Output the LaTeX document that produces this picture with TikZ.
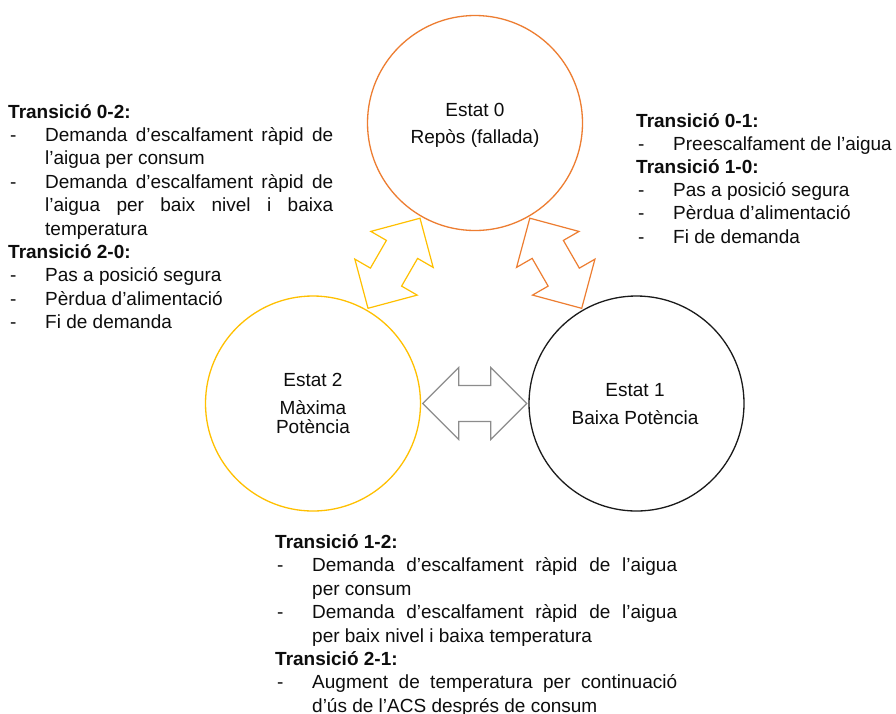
\documentclass[tikz,border=0pt]{standalone}
\usepackage{fontspec}
\setmainfont{Liberation Sans}
\usetikzlibrary{calc}

\definecolor{txt}{HTML}{0D0D0D}
\definecolor{orangeC}{HTML}{ED7D31}
\definecolor{yellowC}{HTML}{FFC000}
\definecolor{darkC}{HTML}{1A1A1A}
\definecolor{grayC}{HTML}{8C8C8C}

% heading and dashed item of a transition list
\newcommand\trhead[1]{\noindent\textbf{#1}\par}
\newcommand\tritem[1]{\hangindent=37pt\hangafter=1\noindent\makebox[37pt][l]{\hspace{2pt}-}#1\par}

% double block arrow between two state circles
% #1 from, #2 to, #3 style, #4 name prefix
\newcommand\dblarrow[4]{%
  \coordinate (#4m) at ($(#1)!0.5!(#2)$);
  \coordinate (#4a) at ($(#4m)!16pt!(#2)$);
  \coordinate (#4b) at ($(#4m)!16pt!(#1)$);
  \draw[#3] ($(#4m)!52pt!(#2)$) -- ($(#4a)!36pt!90:(#2)$) -- ($(#4a)!18pt!90:(#2)$)
    -- ($(#4b)!18pt!-90:(#1)$) -- ($(#4b)!36pt!-90:(#1)$) -- ($(#4m)!52pt!(#1)$)
    -- ($(#4b)!36pt!90:(#1)$) -- ($(#4b)!18pt!90:(#1)$) -- ($(#4a)!18pt!-90:(#2)$)
    -- ($(#4a)!36pt!-90:(#2)$) -- cycle;
}

\tikzset{
  state/.style={circle, draw, line width=1.3pt, minimum size=215pt, inner sep=0pt},
  stlabel/.style={anchor=base, inner sep=0pt, text=txt, font=\fontsize{19}{23}\selectfont},
  notes/.style={anchor=base west, inner sep=0pt, align=justify, text=txt},
  blockarrow/.style={line width=1.2pt, line join=miter},
}

\begin{document}
\begin{tikzpicture}[x=1pt, y=-1pt]
\useasboundingbox (0,0) rectangle (896,713);
\fill[white] (0,0) rectangle (896,713);

% states
\node[state, draw=orangeC] (s0) at (475,123) {};
\node[state, draw=darkC] (s1) at (636.5,403.5) {};
\node[state, draw=yellowC] (s2) at (313,403.5) {};

\node[stlabel] (t0a) at (475,116) {Estat 0};
\node[stlabel] (t0b) at (475,143.5) {Repòs (fallada)};
\node[stlabel] (t1a) at (635,396) {Estat 1};
\node[stlabel] (t1b) at (635,424) {Baixa Potència};
\node[stlabel] (t2a) at (313,386.5) {Estat 2};
\node[stlabel] (t2b) at (313,414.5) {Màxima};
\node[stlabel] (t2c) at (313,433) {Potència};

% transitions
\dblarrow{s2}{s0}{blockarrow, draw=yellowC}{y}
\dblarrow{s0}{s1}{blockarrow, draw=orangeC}{o}
\dblarrow{s2}{s1}{blockarrow, draw=grayC}{g}

% transition lists
\node[notes, text width=325pt] (n02) at (8,118) {%
  \fontsize{19}{23.4}\selectfont\parskip=0pt\parindent=0pt\hbadness=10000
  \trhead{Transició 0-2:}
  \tritem{Demanda d’escalfament ràpid de\linebreak l’aigua per consum}
  \tritem{Demanda d’escalfament ràpid de\linebreak l’aigua per baix nivel i baixa\linebreak temperatura}
  \trhead{Transició 2-0:}
  \tritem{Pas a posició segura}
  \tritem{Pèrdua d’alimentació}
  \tritem{Fi de demanda}};

\node[notes, text width=258pt] (n01) at (636,127) {%
  \fontsize{19}{23.2}\selectfont\parskip=0pt\parindent=0pt\hbadness=10000
  \trhead{Transició 0-1:}
  \tritem{Preescalfament de l’aigua}
  \trhead{Transició 1-0:}
  \tritem{Pas a posició segura}
  \tritem{Pèrdua d’alimentació}
  \tritem{Fi de demanda}};

\node[notes, text width=402pt] (n12) at (275,548.5) {%
  \fontsize{19}{23.4}\selectfont\parskip=0pt\parindent=0pt\hbadness=10000
  \trhead{Transició 1-2:}
  \tritem{Demanda d’escalfament ràpid de l’aigua\linebreak per consum}
  \tritem{Demanda d’escalfament ràpid de l’aigua\linebreak per baix nivel i baixa temperatura}
  \trhead{Transició 2-1:}
  \tritem{Augment de temperatura per continuació\linebreak d’ús de l’ACS després de consum}};
\end{tikzpicture}
\end{document}
